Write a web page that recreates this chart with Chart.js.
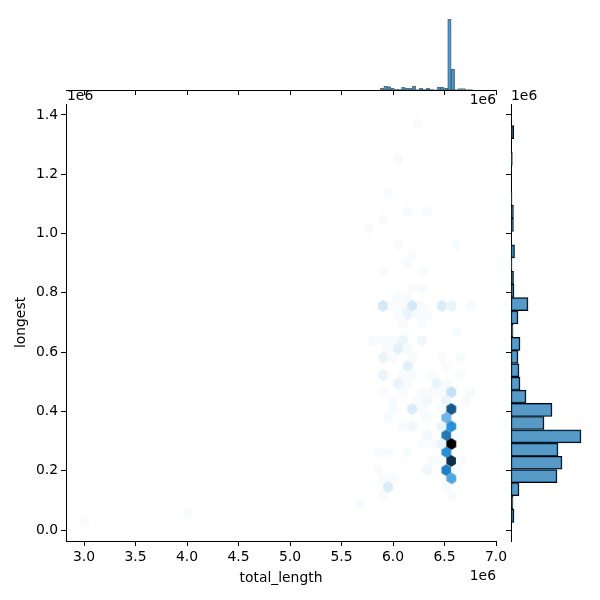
<!DOCTYPE html>
<html>
<head>
<meta charset="utf-8">
<script src="https://cdn.jsdelivr.net/npm/chart.js@4"></script>
<style>
    html, body { margin: 0; background: #fff; }
    #wrap { position: relative; width: 600px; height: 600px; }
    canvas { position: absolute; left: 0; top: 0; }
</style>
</head>
<body>
<div id="wrap">
    <canvas id="mainChart" width="600" height="600"></canvas>
    <canvas id="topChart" width="600" height="600"></canvas>
    <canvas id="rightChart" width="600" height="600"></canvas>
</div>
<script>
// all lengths in units of 1e6
const xTicks = [3.0, 3.5, 4.0, 4.5, 5.0, 5.5, 6.0, 6.5, 7.0];
const yTicks = [0.0, 0.2, 0.4, 0.6, 0.8, 1.0, 1.2, 1.4];

// hexbin cells, one source line per row
const hexX = [
    6.236,
    6.049,
    5.951,
    6.143, 6.330,
    5.903,
    5.760,
    6.049, 6.614,
    6.187,
    6.143,
    5.903, 6.282,
    6.187, 6.282,
    6.049, 6.143,
    5.903, 5.997, 6.094, 6.187, 6.282, 6.473, 6.566, 6.757,
    6.049, 6.143, 6.236, 6.330,
    6.094, 6.282,
    6.614,
    5.809, 5.903, 5.997, 6.094, 6.282,
    5.951, 6.049, 6.143,
    5.903, 5.997, 6.187, 6.473, 6.660,
    6.143, 6.518,
    5.903, 6.094, 6.187, 6.379, 6.660,
    6.049, 6.143, 6.424, 6.518,
    5.903, 6.094, 6.282, 6.379, 6.473, 6.566, 6.757,
    5.997, 6.236, 6.330, 6.518, 6.709,
    5.997, 6.187, 6.282, 6.473, 6.566,
    5.951, 6.330, 6.518,
    6.094, 6.187, 6.473, 6.566,
    6.330, 6.518, 6.614,
    6.282, 6.379, 6.473, 6.566,
    5.857, 5.951, 6.143, 6.518,
    6.379, 6.473, 6.566, 6.660,
    5.857, 6.330, 6.518, 6.614,
    5.903, 5.997, 6.566,
    5.951, 6.518,
    5.903, 6.566,
    5.680,
    4.010,
    3.010
];
const hexY = [
    1.369,
    1.251,
    1.135,
    1.076, 1.076,
    1.047,
    1.018,
    0.961, 0.961,
    0.931,
    0.902,
    0.873, 0.873,
    0.815, 0.815,
    0.787, 0.787,
    0.756, 0.756, 0.756, 0.756, 0.756, 0.756, 0.756, 0.756,
    0.728, 0.728, 0.728, 0.728,
    0.699, 0.699,
    0.669,
    0.639, 0.639, 0.639, 0.639, 0.639,
    0.611, 0.611, 0.611,
    0.581, 0.581, 0.581, 0.581, 0.581,
    0.552, 0.552,
    0.523, 0.523, 0.523, 0.523, 0.523,
    0.495, 0.495, 0.495, 0.495,
    0.465, 0.465, 0.465, 0.465, 0.465, 0.465, 0.465,
    0.436, 0.436, 0.436, 0.436, 0.436,
    0.408, 0.408, 0.408, 0.408, 0.408,
    0.378, 0.378, 0.378,
    0.349, 0.349, 0.349, 0.349,
    0.319, 0.319, 0.319,
    0.290, 0.290, 0.290, 0.290,
    0.261, 0.261, 0.261, 0.261,
    0.233, 0.233, 0.233, 0.233,
    0.202, 0.202, 0.202, 0.202,
    0.174, 0.174, 0.174,
    0.145, 0.145,
    0.115, 0.115,
    0.087,
    0.056,
    0.027
];
const hexCount = [
    1,
    1,
    1,
    1, 1,
    1,
    1,
    1, 1,
    1,
    1,
    1, 1,
    1, 1,
    1, 1,
    6, 1, 1, 6, 1, 5, 3, 1,
    1, 3, 1, 1,
    1, 1,
    1,
    1, 1, 1, 3, 2,
    1, 4, 1,
    3, 1, 1, 1, 1,
    4, 1,
    3, 1, 1, 1, 1,
    3, 1, 3, 1,
    1, 1, 1, 1, 1, 8, 1,
    1, 1, 2, 3, 1,
    1, 5, 1, 1, 41,
    1, 1, 20,
    1, 2, 3, 30,
    2, 35, 1,
    1, 1, 3, 60,
    1, 1, 1, 30,
    1, 1, 50, 1,
    1, 2, 33, 1,
    1, 1, 24,
    5, 1,
    1, 1,
    1,
    1,
    1
];
const maxCount = 60;

// top marginal histogram
const topBins = [
    5.893, 5.928, 5.962, 5.996, 6.031, 6.065, 6.100, 6.134, 6.169, 6.203, 6.238, 6.272, 6.307,
    6.341, 6.376, 6.410, 6.445, 6.479, 6.514, 6.548, 6.582, 6.617, 6.651, 6.686, 6.720, 6.755
];
const topCounts = [
    1.7, 4, 3.3, 1.7, 0.7, 0.7, 2.7, 1.7, 1.7, 4, 0.3, 1.7, 0.7,
    2, 0.7, 0.2, 3, 3, 1.7, 70.7, 20.7, 0.3, 1.3, 1.3, 0.3, 0.3
];

// right marginal histogram
const rightBins = [
    0.048, 0.093, 0.138, 0.182, 0.227, 0.271, 0.316, 0.361, 0.405, 0.450,
    0.494, 0.539, 0.584, 0.628, 0.673, 0.717, 0.762, 0.807, 0.851, 0.896,
    0.940, 0.985, 1.029, 1.074, 1.119, 1.163, 1.208, 1.252, 1.297, 1.342
];
const rightCounts = [
    3, 2, 8, 46, 51, 47, 70, 33, 41, 15,
    9, 8, 7, 9, 2, 7, 17, 3, 2.5, 1,
    3.5, 0, 2.4, 2.4, 1, 0, 0, 1.3, 0, 2.7
];

const xRange = { min: 2.825, max: 7.0 };
const yRange = { min: -0.037, max: 1.437 };

Chart.defaults.font.family = '"DejaVu Sans"';
Chart.defaults.font.size = 13.9;
Chart.defaults.color = '#000';
Chart.defaults.animation = false;
Chart.defaults.responsive = false;
Chart.defaults.plugins.legend.display = false;
Chart.defaults.plugins.tooltip.enabled = false;

const tickGrid = { drawOnChartArea: false, offset: false, tickLength: 5, tickColor: '#000', tickWidth: 1 };
const blackBorder = { color: '#000', width: 1 };

// seaborn hex colormap: hue of C0, lightness falling from white to black
function hexColor(count) {
    const light = 100 * (1 - count / maxCount);
    return `hsl(205, 71%, ${light}%)`;
}

const hexImages = {};
function hexImage(count) {
    if (hexImages[count]) return hexImages[count];
    const c = document.createElement('canvas');
    c.width = 12;
    c.height = 14;
    const g = c.getContext('2d');
    const w = 4.9, h = 6.1;
    g.translate(6, 7);
    g.beginPath();
    g.moveTo(0, -h);
    g.lineTo(w, -h / 2);
    g.lineTo(w, h / 2);
    g.lineTo(0, h);
    g.lineTo(-w, h / 2);
    g.lineTo(-w, -h / 2);
    g.closePath();
    g.fillStyle = hexColor(count);
    g.fill();
    hexImages[count] = c;
    return c;
}

const offsetLabels = {
    id: 'offsetLabels',
    afterDraw(chart) {
        const ctx = chart.ctx;
        ctx.save();
        ctx.font = '13.9px "DejaVu Sans"';
        ctx.fillStyle = '#000';
        ctx.textBaseline = 'middle';
        ctx.textAlign = 'left';
        ctx.fillText('1e6', 67, 96);
        ctx.fillText('1e6', 511, 96);
        ctx.textAlign = 'right';
        ctx.fillText('1e6', 496, 100);
        ctx.fillText('1e6', 496, 576);
        ctx.restore();
    }
};

new Chart(document.getElementById('mainChart'), {
    type: 'scatter',
    data: {
        datasets: [{
            data: hexX.map((x, i) => ({ x: x, y: hexY[i] })),
            pointStyle: ctx => hexImage(hexCount[ctx.dataIndex]),
            pointRadius: 6
        }]
    },
    options: {
        layout: { padding: { left: 0, top: 104, right: 104, bottom: 0 } },
        scales: {
            x: {
                type: 'linear',
                min: xRange.min,
                max: xRange.max,
                afterBuildTicks: axis => { axis.ticks = xTicks.map(v => ({ value: v })); },
                afterFit: axis => { axis.height = 59; },
                ticks: { maxRotation: 0, padding: 3, callback: v => v.toFixed(1) },
                grid: tickGrid,
                border: blackBorder,
                title: { display: true, text: 'total_length', padding: { top: 0, bottom: 13 } }
            },
            y: {
                type: 'linear',
                min: yRange.min,
                max: yRange.max,
                afterBuildTicks: axis => { axis.ticks = yTicks.map(v => ({ value: v })); },
                afterFit: axis => { axis.width = 66; },
                ticks: { padding: 3, callback: v => v.toFixed(1) },
                grid: tickGrid,
                border: blackBorder,
                title: { display: true, text: 'longest', padding: { top: 13, bottom: 0 } }
            }
        }
    },
    plugins: [offsetLabels]
});

new Chart(document.getElementById('topChart'), {
    type: 'bar',
    data: {
        datasets: [{
            data: topBins.map((x, i) => ({ x: x, y: topCounts[i] })),
            backgroundColor: 'rgba(31,119,180,0.75)',
            borderColor: 'rgba(0,0,0,0.55)',
            borderWidth: 0.6,
            borderSkipped: false,
            barPercentage: 1,
            categoryPercentage: 1
        }]
    },
    options: {
        layout: { padding: { left: 66, top: 3, right: 104, bottom: 505 } },
        scales: {
            x: {
                type: 'linear',
                offset: false,
                min: xRange.min,
                max: xRange.max,
                afterBuildTicks: axis => { axis.ticks = xTicks.map(v => ({ value: v })); },
                afterFit: axis => { axis.height = 5; },
                ticks: { display: false },
                grid: tickGrid,
                border: blackBorder
            },
            y: { display: false, min: 0, max: 87 }
        }
    }
});

new Chart(document.getElementById('rightChart'), {
    type: 'bar',
    data: {
        datasets: [{
            data: rightBins.map((y, i) => ({ x: rightCounts[i], y: y })),
            backgroundColor: 'rgba(31,119,180,0.75)',
            borderColor: '#000',
            borderWidth: 1,
            borderSkipped: false,
            barPercentage: 1,
            categoryPercentage: 1
        }]
    },
    options: {
        indexAxis: 'y',
        layout: { padding: { left: 506, top: 104, right: 3, bottom: 59 } },
        scales: {
            x: { type: 'linear', display: false, min: 0, max: 86 },
            y: {
                type: 'linear',
                offset: false,
                min: yRange.min,
                max: yRange.max,
                afterBuildTicks: axis => { axis.ticks = yTicks.map(v => ({ value: v })); },
                afterFit: axis => { axis.width = 5; },
                ticks: { display: false },
                grid: tickGrid,
                border: blackBorder
            }
        }
    }
});
</script>
</body>
</html>
